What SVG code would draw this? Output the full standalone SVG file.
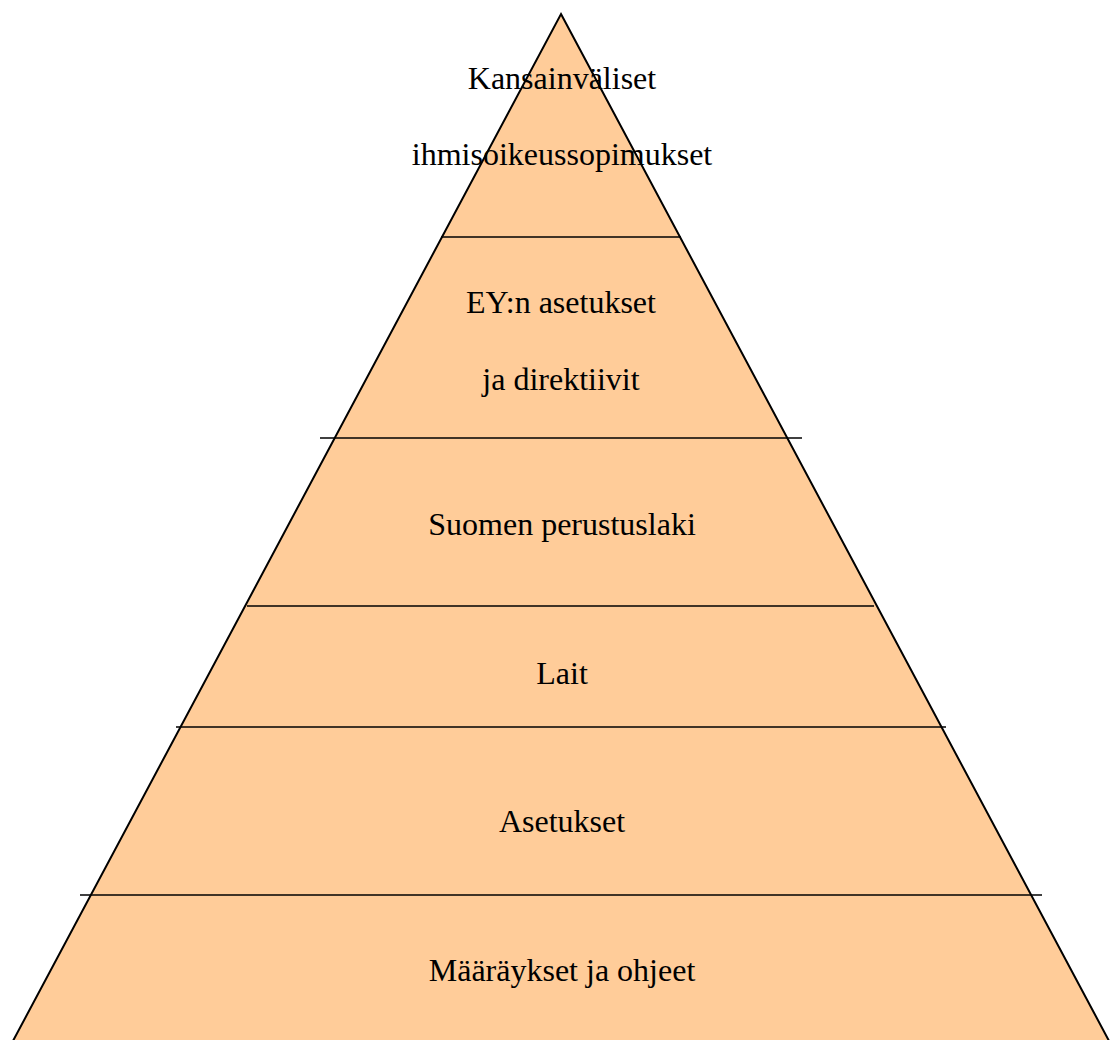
<svg xmlns="http://www.w3.org/2000/svg" width="1110" height="1040" viewBox="0 0 1110 1040">
<style>
.tri{fill:#FFCC99;stroke:#000;stroke-width:2;stroke-linejoin:miter}
.sep{stroke:#000;stroke-width:1.6;fill:none}
text{font-family:"Liberation Serif","Times New Roman",serif;font-size:32px;fill:#000;text-anchor:middle}
</style>
<rect width="1110" height="1040" fill="#fff"/>
<g id="pyramid">
<polygon class="tri" points="561,14 1116,1054 6,1054"/>
</g>
<g id="connectors">
<line class="sep" x1="441" y1="237" x2="681" y2="237"/>
<line class="sep" x1="320" y1="438" x2="802" y2="438"/>
<line class="sep" x1="247" y1="606" x2="874" y2="606"/>
<line class="sep" x1="176" y1="727" x2="946" y2="727"/>
<line class="sep" x1="80" y1="895" x2="1042" y2="895"/>
</g>
<g id="level1"><text x="562" y="89">Kansainväliset</text><text x="562" y="165">ihmisoikeussopimukset</text></g>
<g id="level2"><text x="561" y="313">EY:n asetukset</text><text x="561" y="390">ja direktiivit</text></g>
<g id="level3"><text x="562" y="535">Suomen perustuslaki</text></g>
<g id="level4"><text x="562" y="684">Lait</text></g>
<g id="level5"><text x="562" y="832">Asetukset</text></g>
<g id="level6"><text x="562" y="981">Määräykset ja ohjeet</text></g>
</svg>
